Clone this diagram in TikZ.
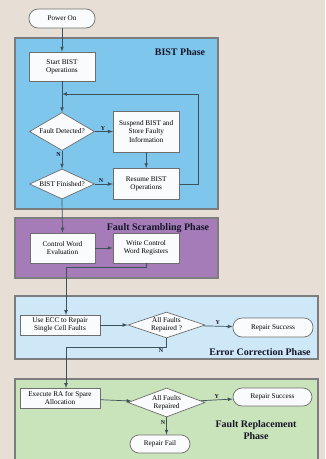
\documentclass[tikz,border=0pt]{standalone}
\usepackage{fontspec}
\setmainfont{Liberation Serif}
\usetikzlibrary{shapes.geometric,positioning}
\definecolor{bg}{RGB}{231,223,213}
\definecolor{bistblue}{RGB}{126,198,236}
\definecolor{scrpurple}{RGB}{166,124,184}
\definecolor{eccblue}{RGB}{206,232,248}
\definecolor{repgreen}{RGB}{201,227,186}
\definecolor{boxline}{RGB}{110,110,110}
\definecolor{phaseline}{RGB}{125,125,125}
\definecolor{flowline}{RGB}{60,82,92}
\definecolor{titletext}{RGB}{20,20,40}
\definecolor{boxfill}{RGB}{250,251,252}

\begin{document}
\begin{tikzpicture}[x=1pt,y=-1pt,
    box/.style={draw=boxline, fill=boxfill, line width=0.7pt, align=center,
        font=\fontsize{7.2}{8.2}\selectfont, inner sep=0.5pt},
    term/.style={box, rounded corners=9pt},
    dia/.style={draw=boxline, fill=boxfill, line width=0.7pt, diamond, inner sep=0pt},
    diatext/.style={align=center, font=\fontsize{7.2}{8.2}\selectfont, inner sep=0pt},
    phase/.style={draw=phaseline, line width=1.2pt},
    title/.style={font=\bfseries\fontsize{10}{11.5}\selectfont, text=titletext, align=center},
    flow/.style={draw=flowline, line width=0.7pt, ->, >=latex},
    yn/.style={font=\bfseries\fontsize{6}{7}\selectfont, text=titletext, inner sep=1pt}]
    \fill[bg] (0,0) rectangle (325,459);
    \useasboundingbox (0,0) rectangle (325,459);

    \fill[phase, fill=bistblue] (15,38) rectangle (218,209);
    \fill[phase, fill=scrpurple] (15,218) rectangle (218,278);
    \fill[phase, fill=eccblue] (15,296) rectangle (318,359);
    \fill[phase, fill=repgreen] (15,379) rectangle (318,463);
    \draw[phase] (15,38) rectangle (218,209);
    \draw[phase] (15,218) rectangle (218,278);
    \draw[phase] (15,296) rectangle (318,359);
    \draw[phase] (15,379) rectangle (318,463);

    \node[title] (tbist) at (180,52) {BIST Phase};
    \node[title] (tscr) at (158,228) {Fault Scrambling Phase};
    \node[title] (tecc) at (260,352) {Error Correction Phase};
    \node[title] (trep) at (256,430) {Fault Replacement\\Phase};

    \node[term, minimum width=66pt, minimum height=19pt] (on) at (62,18.5) {Power On};
    \node[box, minimum width=66pt, minimum height=29pt] (start) at (62,66.5) {Start BIST\\Operations};
    \node[dia, minimum width=65pt, minimum height=38pt,
        label={[diatext]center:Fault Detected?}] (fd) at (62,131.5) {};
    \node[box, minimum width=66pt, minimum height=41pt, right=18pt of fd] (sus) {Suspend BIST and\\Store Faulty\\Information};
    \node[dia, minimum width=65pt, minimum height=30pt,
        label={[diatext]center:BIST Finished?}] (fin) at (62,184) {};
    \node[box, minimum width=66pt, minimum height=31pt, right=18pt of fin] (res) {Resume BIST\\Operations};
    \coordinate (join) at (62,94);

    \node[box, minimum width=65pt, minimum height=30pt] (cwe) at (62.5,248) {Control Word\\Evaluation};
    \node[box, minimum width=66pt, minimum height=30pt] (wcr) at (146,248) {Write Control\\Word Registers};

    \node[box, minimum width=80pt, minimum height=20pt] (ecc) at (60,325) {Use ECC to Repair\\Single Cell Faults};
    \node[dia, minimum width=77pt, minimum height=26pt,
        label={[diatext]center:All Faults\\Repaired ?}] (ok1) at (166.5,325) {};
    \node[term, minimum width=80pt, minimum height=19pt] (win1) at (273,327.5) {Repair Success};

    \node[box, minimum width=80pt, minimum height=20pt] (ra) at (60,398) {Execute RA for Spare\\Allocation};
    \node[dia, minimum width=77pt, minimum height=29pt,
        label={[diatext]center:All Faults\\Repaired}] (ok2) at (166.5,402.5) {};
    \node[term, minimum width=79pt, minimum height=18pt] (win2) at (272.5,397) {Repair Success};
    \node[term, minimum width=60pt, minimum height=18pt] (fail) at (160,444) {Repair Fail};

    \draw[flow] (on) -- (start);
    \draw[flow] (start) -- (fd);
    \draw[flow] (fd) -- node[yn, above, pos=0.45] {Y} (sus);
    \draw[flow] (fd) -- node[yn, left, pos=0.2] {N} (fin);
    \draw[flow] (sus) -- (res);
    \draw[flow] (fin) -- node[yn, above, pos=0.35] {N} (res);
    \draw[flow] (res.east) -- (198,184) -- (198,94) -- (join);
    \draw[flow] (fin.south) -- (cwe.north);
    \draw[flow] (cwe) -- (wcr);
    \draw[flow] (wcr.south) -- (146,267) -- (66,267) -- (66,315);
    \draw[flow] (ecc) -- (ok1);
    \draw[flow] (ok1) -- node[yn, above] {Y} (win1);
    \draw[flow] (ok1.south) -- (166.5,347) node[yn, below left=0pt and 2pt] {N} -- (66,347) -- (66,388);
    \draw[flow] (ra) -- (ok2);
    \draw[flow] (ok2) -- node[yn, above] {Y} (win2);
    \draw[flow] (ok2.south) -- node[yn, left, pos=0.3] {N} (ok2.south |- fail.north);
\end{tikzpicture}
\end{document}
